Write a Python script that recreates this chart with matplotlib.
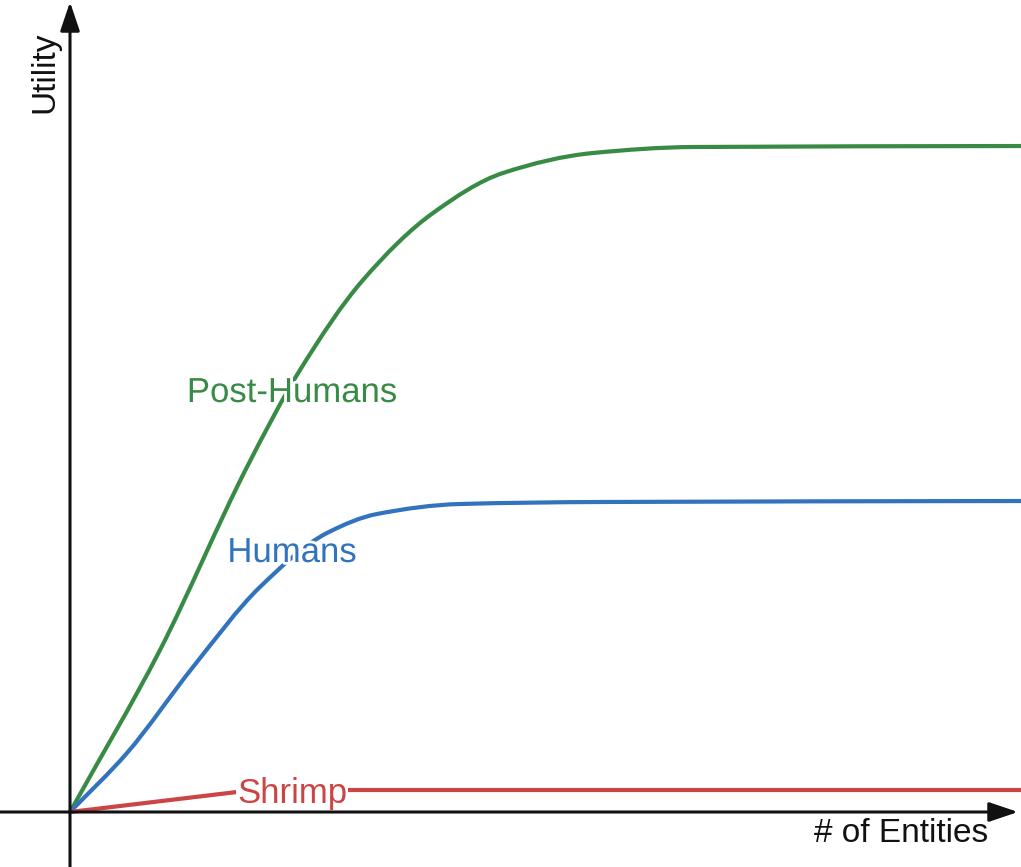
import numpy as np
import matplotlib.pyplot as plt
import matplotlib.patheffects as pe
from matplotlib.path import Path
from matplotlib.patches import PathPatch

# values (arbitrary units, origin at 0, 0)
post_x = [0, 0.90, 1.77, 2.30, 2.93, 3.63, 4.33, 5.23, 6.23, 9.60]
post_y = [0, 1.62, 3.45, 4.42, 5.32, 5.99, 6.39, 6.59, 6.65, 6.66]

human_x = [0, 0.57, 1.23, 1.90, 2.57, 3.07, 3.90, 5.30, 9.60]
human_y = [0, 0.59, 1.45, 2.25, 2.79, 2.98, 3.08, 3.10, 3.11]

shrimp_x = [0, 1.67, 2.60, 9.60]
shrimp_y = [0, 0.20, 0.22, 0.22]

GREEN = '#388b45'
BLUE = '#3174bd'
RED = '#cc4545'
INK = '#111111'

plt.rcParams['font.family'] = ['Liberation Sans', 'DejaVu Sans']


def smooth_path(xs, ys):
    # monotone cubic (pchip style) through the points, as bezier segments
    x = np.asarray(xs, float)
    y = np.asarray(ys, float)
    h = np.diff(x)
    d = np.diff(y) / h
    m = np.empty_like(y)
    m[0], m[-1] = d[0], d[-1]
    for k in range(1, len(x) - 1):
        if d[k - 1] * d[k] <= 0:
            m[k] = 0
        else:
            w1 = 2 * h[k] + h[k - 1]
            w2 = h[k] + 2 * h[k - 1]
            m[k] = (w1 + w2) / (w1 / d[k - 1] + w2 / d[k])
    verts = [(x[0], y[0])]
    codes = [Path.MOVETO]
    for k in range(len(h)):
        verts += [(x[k] + h[k] / 3, y[k] + m[k] * h[k] / 3),
                  (x[k + 1] - h[k] / 3, y[k + 1] - m[k + 1] * h[k] / 3),
                  (x[k + 1], y[k + 1])]
        codes += [Path.CURVE4] * 3
    return Path(verts, codes)


fig = plt.figure(figsize=(10.21, 8.67), dpi=100)
ax = fig.add_axes([0, 0, 1, 1])
ax.set_xlim(-0.70, 9.51)
ax.set_ylim(-0.55, 8.12)
ax.axis('off')

for xs, ys, c in [(post_x, post_y, GREEN), (human_x, human_y, BLUE)]:
    ax.add_patch(PathPatch(smooth_path(xs, ys), fill=False, edgecolor=c, lw=3,
                           capstyle='round', joinstyle='round', zorder=2))
ax.plot(shrimp_x, shrimp_y, color=RED, lw=3, solid_capstyle='round', zorder=2)

# axes with arrow heads
head = '-|>,head_length=0.8,head_width=0.27'
ax.annotate('', xy=(9.48, 0), xytext=(-0.70, 0),
            arrowprops=dict(arrowstyle=head, lw=2.2, color=INK, mutation_scale=22,
                            shrinkA=0, shrinkB=0), zorder=4)
ax.annotate('', xy=(0, 8.10), xytext=(0, -0.56),
            arrowprops=dict(arrowstyle=head, lw=2.2, color=INK, mutation_scale=22,
                            shrinkA=0, shrinkB=0), zorder=4)

halo = [pe.withStroke(linewidth=4, foreground='white')]
ax.text(2.22, 4.10, 'Post-Humans', color=GREEN, fontsize=25, ha='center', va='baseline',
        path_effects=halo, zorder=3)
ax.text(2.22, 2.50, 'Humans', color=BLUE, fontsize=25, ha='center', va='baseline',
        path_effects=halo, zorder=3)
ax.text(2.22, 0.09, 'Shrimp', color=RED, fontsize=25, ha='center', va='baseline',
        bbox=dict(facecolor='white', edgecolor='none', pad=0.5), zorder=3)

ax.text(8.315, -0.30, '# of Entities', color=INK, fontsize=24, ha='center', va='baseline')
ax.text(-0.17, 7.40, 'Utility', color=INK, fontsize=24, rotation=90,
        rotation_mode='anchor', ha='center', va='baseline')

fig.savefig('out.png', dpi=100)
